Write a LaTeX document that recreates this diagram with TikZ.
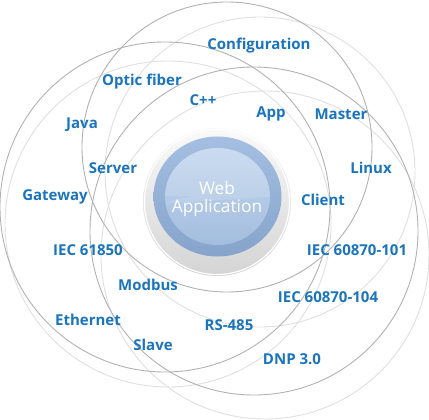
\documentclass[tikz,border=0pt]{standalone}
\usepackage{fontspec}
\setmainfont{Open Sans}
\usetikzlibrary{shadings}
\definecolor{lblue}{RGB}{27,117,188}
\definecolor{darkring}{RGB}{178,178,178}
\definecolor{lightring}{RGB}{224,224,224}
\definecolor{ringtop}{RGB}{164,191,225}
\definecolor{ringbot}{RGB}{134,163,203}
\definecolor{disctop}{RGB}{196,216,239}
\definecolor{discbot}{RGB}{163,189,222}
\definecolor{halotop}{RGB}{250,250,250}
\definecolor{halobot}{RGB}{212,212,212}
\tikzset{
  darkc/.style={draw=darkring, line width=0.9pt},
  lightc/.style={draw=lightring, line width=0.9pt},
  lbl/.style={text=lblue, font=\bfseries\fontsize{15}{17}\selectfont, inner sep=0pt},
  webtxt/.style={text=white, font=\fontsize{17.3}{18.5}\selectfont, align=center, inner sep=0pt}
}
\begin{document}
\begin{tikzpicture}[x=1pt,y=-1pt]
\useasboundingbox (0,0) rectangle (429,420);
\fill[white] (0,0) rectangle (429,420);
\begin{scope}
\clip (0,0) rectangle (429,420);
% light circles
\draw[lightc] (260,172) circle[radius=155pt];
\draw[lightc] (168,224) circle[radius=163pt];
\draw[lightc] (265,255) circle[radius=164pt];
% dark circles
\draw[darkc] (227,147) circle[radius=145pt];
\draw[darkc] (165,207) circle[radius=165pt];
\draw[darkc] (254,231) circle[radius=164pt];
\end{scope}
% central bubble
\shade[top color=halotop, bottom color=halobot] (217,202) circle[radius=74pt];
\draw[white, line width=1.2pt] (217,202) circle[radius=72.5pt];
\shade[top color=ringtop, bottom color=ringbot] (217.5,196.5) ellipse[x radius=64pt, y radius=60pt];
\shade[top color=disctop, bottom color=discbot] (217.5,196.5) ellipse[x radius=52.5pt, y radius=48.5pt];
\begin{scope}
\clip (217.5,196.5) ellipse[x radius=52.5pt, y radius=48.5pt];
\fill[white, opacity=0.12] (160,140) rectangle (280,196) .. controls (240,188) and (200,192) .. (160,204) -- cycle;
\end{scope}
\node[webtxt] (web) at (217,199) {Web\\Application};
% labels
\node[lbl] (conf) at (259,46) {Configuration};
\node[lbl] (optic) at (142,82) {Optic fiber};
\node[lbl] (cpp) at (203,100) {C++};
\node[lbl] (app) at (271,114) {App};
\node[lbl] (master) at (341,114) {Master};
\node[lbl] (java) at (82,125) {Java};
\node[lbl] (linux) at (371,168) {Linux};
\node[lbl] (server) at (113,168) {Server};
\node[lbl] (gateway) at (55,197) {Gateway};
\node[lbl] (client) at (323,200) {Client};
\node[lbl] (iec1) at (88,250) {IEC 61850};
\node[lbl] (iec2) at (357,250) {IEC 60870-101};
\node[lbl] (modbus) at (148,285) {Modbus};
\node[lbl] (iec3) at (328,297) {IEC 60870-104};
\node[lbl] (eth) at (88,320) {Ethernet};
\node[lbl] (rs) at (229,325) {RS-485};
\node[lbl] (slave) at (153,345) {Slave};
\node[lbl] (dnp) at (292,359) {DNP 3.0};
\end{tikzpicture}
\end{document}
